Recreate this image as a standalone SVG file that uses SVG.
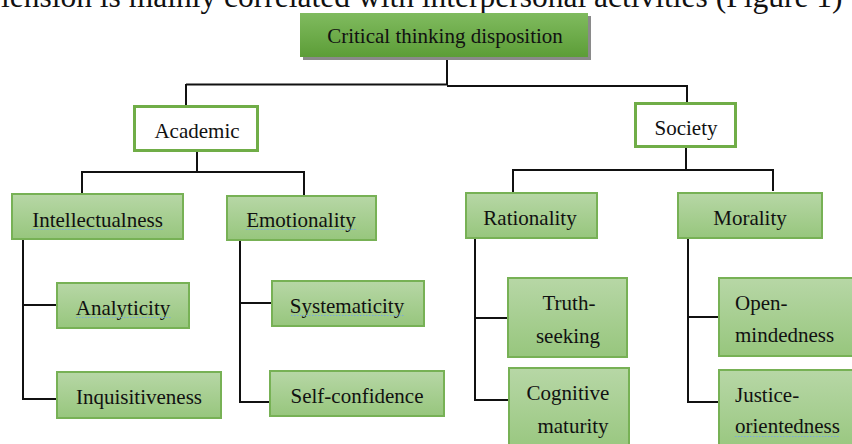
<svg xmlns="http://www.w3.org/2000/svg" width="852" height="444" viewBox="0 0 852 444">
  <defs>
    <linearGradient id="gRoot" x1="0" y1="0" x2="0" y2="1">
      <stop offset="0" stop-color="#80bb5f"/>
      <stop offset="1" stop-color="#5c9d37"/>
    </linearGradient>
    <linearGradient id="gLeaf" x1="0" y1="0" x2="0" y2="1">
      <stop offset="0" stop-color="#b7d7a6"/>
      <stop offset="1" stop-color="#97c67d"/>
    </linearGradient>
  </defs>
  <style>
    .t { font-family: "Liberation Serif", "Times New Roman", serif; font-size: 21px; fill: #111; }
    .m { text-anchor: middle; }
    .leaf { fill: url(#gLeaf); stroke: #77b155; stroke-width: 2; }
    .cat { fill: #ffffff; stroke: #70ad47; stroke-width: 3; }
    .conn { fill: none; stroke: #111; stroke-width: 2; }
    .sp { fill: none; stroke: #7aa6e0; stroke-width: 1; stroke-dasharray: 1.5 1.5; }
  </style>
  <rect width="852" height="444" fill="#ffffff"/>

  <text class="t" x="1" y="6.5" style="font-size:31.5px">lension is mainly correlated with interpersonal activities (Figure 1)</text>

  <g id="connectors">
    <path class="conn" d="M447 57 V85"/>
    <path class="conn" d="M186 84.5 H447"/>
    <path class="conn" d="M447 86 H687"/>
    <path class="conn" d="M186 84 V105"/>
    <path class="conn" d="M687 85 V102"/>
    <path class="conn" d="M197 152 V172"/>
    <path class="conn" d="M81 172 H304"/>
    <path class="conn" d="M82 172 V194"/>
    <path class="conn" d="M304 171 V196"/>
    <path class="conn" d="M686 148 V170"/>
    <path class="conn" d="M512 170 H773"/>
    <path class="conn" d="M513 170 V193"/>
    <path class="conn" d="M773 169 V191"/>
    <path class="conn" d="M23 239 V399 H57"/>
    <path class="conn" d="M23 305 H57"/>
    <path class="conn" d="M240 240 V402 H270"/>
    <path class="conn" d="M240 303 H272"/>
    <path class="conn" d="M475 238 V400 H509"/>
    <path class="conn" d="M475 318 H508"/>
    <path class="conn" d="M688 238 V402 H719"/>
    <path class="conn" d="M688 317 H719"/>
  </g>

  <g id="root">
    <rect x="303" y="16" width="288" height="44" fill="#8a8a8a"/>
    <rect x="300" y="13" width="288" height="44" fill="url(#gRoot)"/>
    <text class="t m" x="445" y="43">Critical thinking disposition</text>
  </g>

  <g id="academic">
    <rect class="cat" x="134.5" y="106.5" width="123" height="44"/>
    <text class="t m" x="197" y="138">Academic</text>
  </g>

  <g id="society">
    <rect class="cat" x="635.5" y="103.5" width="100" height="43"/>
    <text class="t m" x="686" y="135">Society</text>
  </g>

  <g id="intellectualness">
    <rect class="leaf" x="12" y="194" width="171" height="45"/>
    <text class="t m" x="97.5" y="227">Intellectualness</text>
    <path class="sp" d="M32 229.5 H163"/>
  </g>

  <g id="emotionality">
    <rect class="leaf" x="227" y="196" width="149" height="44"/>
    <text class="t m" x="301" y="227">Emotionality</text>
    <path class="sp" d="M246 229.5 H356"/>
  </g>

  <g id="rationality">
    <rect class="leaf" x="466" y="193" width="131" height="45"/>
    <text class="t m" x="530" y="225">Rationality</text>
  </g>

  <g id="morality">
    <rect class="leaf" x="678" y="193" width="144" height="45"/>
    <text class="t m" x="750" y="225">Morality</text>
  </g>

  <g id="analyticity">
    <rect class="leaf" x="57" y="283" width="132" height="45"/>
    <text class="t m" x="123" y="315">Analyticity</text>
    <path class="sp" d="M76 317.5 H171"/>
  </g>

  <g id="inquisitiveness">
    <rect class="leaf" x="57" y="372" width="164" height="46"/>
    <text class="t m" x="139" y="404">Inquisitiveness</text>
  </g>

  <g id="systematicity">
    <rect class="leaf" x="272" y="281" width="152" height="45"/>
    <text class="t m" x="347" y="313">Systematicity</text>
    <path class="sp" d="M291 315.5 H404"/>
  </g>

  <g id="self-confidence">
    <rect class="leaf" x="270" y="371" width="174" height="45"/>
    <text class="t m" x="357" y="403">Self-confidence</text>
  </g>

  <g id="truth-seeking">
    <rect class="leaf" x="508" y="278" width="119" height="79"/>
    <text class="t m" x="569" y="310">Truth-</text>
    <text class="t m" x="568" y="343">seeking</text>
  </g>

  <g id="cognitive-maturity">
    <rect class="leaf" x="509" y="368" width="120" height="86"/>
    <text class="t m" x="568" y="400">Cognitive</text>
    <text class="t m" x="573" y="433">maturity</text>
  </g>

  <g id="open-mindedness">
    <rect class="leaf" x="719" y="278" width="145" height="78"/>
    <text class="t" x="735" y="310">Open-</text>
    <text class="t" x="735" y="342">mindedness</text>
  </g>

  <g id="justice-orientedness">
    <rect class="leaf" x="719" y="370" width="145" height="84"/>
    <text class="t" x="735" y="402">Justice-</text>
    <text class="t" x="735" y="433">orientedness</text>
    <path class="sp" d="M735 436.5 H840"/>
  </g>
</svg>
